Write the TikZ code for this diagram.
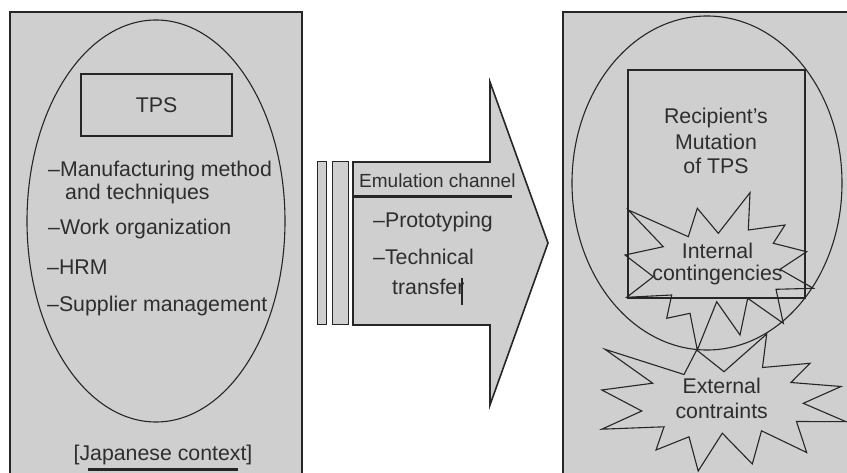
\documentclass[tikz,border=0pt]{standalone}
\usepackage{fontspec}
\setmainfont{Liberation Sans}
\usetikzlibrary{shapes.geometric}
\definecolor{panelgray}{gray}{0.81}
\definecolor{inkc}{gray}{0.15}
\definecolor{textc}{gray}{0.18}
\begin{document}
\begin{tikzpicture}[x=1pt,y=-1pt,
  panel/.style={fill=panelgray, draw=inkc, line width=1.6pt, inner sep=0pt},
  outline/.style={draw=inkc, line width=1.1pt, inner sep=0pt},
  txt/.style={font=\fontsize{21.3}{25}\selectfont, text=textc, inner sep=0pt},
  smalltxt/.style={font=\fontsize{19}{22}\selectfont, text=textc, inner sep=0pt},
  thinbar/.style={fill=panelgray, draw=inkc, line width=1pt},
  rulebar/.style={fill=inkc, draw=none},
  burst/.style={draw=inkc, line width=1.1pt, line join=miter},
]
\useasboundingbox (0,0) rectangle (847,473);
\clip (0,0) rectangle (847,473);
\fill[white] (0,0) rectangle (847,473);

% panels (cut by the picture edge)
\node[panel, minimum width=292, minimum height=488] (lpanel) at (156,256) {};
\node[panel, minimum width=307, minimum height=488] (rpanel) at (716.5,256) {};

% left panel content
\node[outline, ellipse, minimum width=258, minimum height=402] (lell) at (156,221) {};
\node[outline, txt, minimum width=151, minimum height=62] (tps) at (156.5,105) {TPS};
\node[txt, anchor=base west] (m1) at (48,177) {–Manufacturing method};
\node[txt, anchor=base west] (m2) at (65,200) {and techniques};
\node[txt, anchor=base west] (m3) at (48,235) {–Work organization};
\node[txt, anchor=base west] (m4) at (47,275) {–HRM};
\node[txt, anchor=base west] (m5) at (47,312) {–Supplier management};
\node[txt, anchor=base] (jc) at (163,460) {[Japanese context]};
\fill[rulebar] (88,467.5) rectangle (238,471);

% middle: bars and arrow
\draw[thinbar] (317,162) rectangle (326,325);
\draw[thinbar] (332,162) rectangle (348,325);
\draw[panel, line join=miter] (353,162) -- (490,162) -- (490,82) -- (548,243)
  -- (490,405) -- (490,325) -- (353,325) -- cycle;
\node[smalltxt, anchor=base west] (emu) at (359,188) {Emulation channel};
\fill[rulebar] (354,195.5) rectangle (512,198.5);
\node[txt, anchor=base west] (p1) at (373,228) {–Prototyping};
\node[txt, anchor=base west] (p2) at (373,265) {–Technical};
\node[txt, anchor=base west] (p3) at (392,295) {transfer};
\draw[inkc, line width=1.3pt] (462,278) -- (462,305);

% right panel content
\node[outline, ellipse, minimum width=270, minimum height=334] (rell) at (707,183) {};
\node[outline, minimum width=177, minimum height=228] (rbox) at (716.5,184) {};
\node[txt, anchor=base] (r1) at (716,124) {Recipient's};
\node[txt, anchor=base] (r2) at (716,150) {Mutation};
\node[txt, anchor=base] (r3) at (716,174) {of TPS};

% internal contingencies burst
\draw[burst] (628.3,210) -- (688.3,236.7) -- (697.3,208.3) -- (718.3,233.3)
  -- (750,192.7) -- (748.3,230) -- (785,225) -- (773.3,243.3) -- (806.7,251.7)
  -- (780,269.3) -- (813.3,288.3) -- (776,289.3) -- (783.3,323.3) -- (747.7,298.3)
  -- (740,335) -- (716.7,301.7) -- (697.3,350) -- (690,313.3) -- (666.7,318.3)
  -- (671.7,295) -- (626.7,297.3) -- (653.3,276.7) -- (625,255) -- (663.3,246.7) -- cycle;
\node[txt, anchor=base] (i1) at (717.5,259) {Internal};
\node[txt, anchor=base] (i2) at (717.5,281) {contingencies};

% external constraints burst
\draw[burst] (605,349.3) -- (684,374.5) -- (696.7,350) -- (724,371.7) -- (766.7,334)
  -- (762.5,367.5) -- (810,363.3) -- (791,382.5) -- (841,386.5) -- (803.3,403.3)
  -- (846,421.7) -- (796.5,421.5) -- (806.7,452.5) -- (761.5,430.8) -- (752.3,464)
  -- (722.3,433.2) -- (698.2,471) -- (689,436.8) -- (656,450) -- (664,426.8)
  -- (601.8,429.2) -- (641.8,411) -- (601.8,390) -- (652.7,383.2) -- cycle;
\node[txt, anchor=base] (e1) at (721.7,393) {External};
\node[txt, anchor=base] (e2) at (721.7,418) {contraints};
\end{tikzpicture}
\end{document}
